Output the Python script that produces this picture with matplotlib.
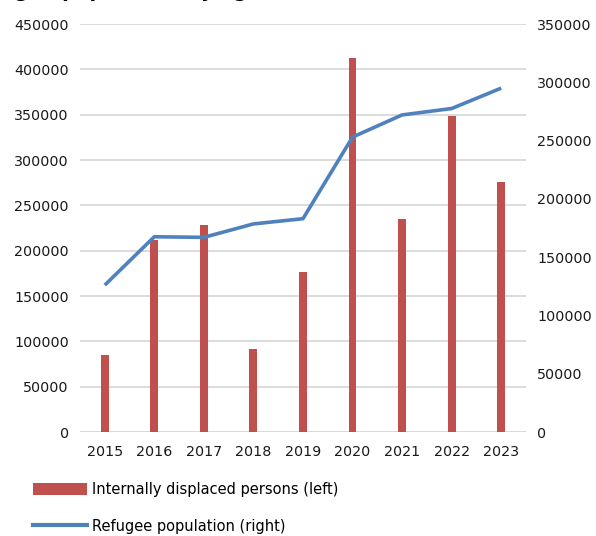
"""Refugee population vs internally displaced persons, dual-axis combo chart."""

import matplotlib

matplotlib.use("Agg")
import matplotlib.pyplot as plt
from matplotlib.lines import Line2D
from matplotlib.patches import Patch
from matplotlib.ticker import MultipleLocator

years = ["2015", "2016", "2017", "2018", "2019", "2020", "2021", "2022", "2023"]
idp_left = [85000, 212000, 228000, 92000, 177000, 412000, 235000, 349000, 276000]
refugees_right = [126000, 167500, 167000, 178500, 183000, 253000, 272000, 277500, 295000]

left_ticks_max = 450000
right_ticks_max = 350000

BAR_COLOR = "#c0504d"
LINE_COLOR = "#4f81bd"
GRID_COLOR = "#d9d9d9"

plt.rcParams["font.family"] = ["DejaVu Sans"]
plt.rcParams["font.size"] = 10

fig = plt.figure(figsize=(5.96, 5.36), dpi=100)
ax = fig.add_axes([0.1342, 0.194, 0.7483, 0.7612])
ax2 = ax.twinx()

x = list(range(len(years)))
ax.bar(x, idp_left, width=0.16, color=BAR_COLOR, zorder=3)
ax2.plot(x, refugees_right, color=LINE_COLOR, linewidth=2.6, solid_capstyle="butt", zorder=4)

ax.set_xlim(-0.5, len(years) - 0.5)
ax.set_ylim(0, left_ticks_max)
ax2.set_ylim(0, right_ticks_max)
ax.yaxis.set_major_locator(MultipleLocator(50000))
ax2.yaxis.set_major_locator(MultipleLocator(50000))
ax.set_xticks(x)
ax.set_xticklabels(years)

ax.grid(axis="y", color=GRID_COLOR, linewidth=1.3, zorder=0)
ax.set_axisbelow(True)
for a in (ax, ax2):
    for side in ("top", "left", "right", "bottom"):
        a.spines[side].set_visible(False)
    a.tick_params(length=0, labelsize=10.3, colors="#1a1a1a")
ax.tick_params(axis="y", pad=8)
ax.tick_params(axis="x", pad=9)
ax2.tick_params(axis="y", pad=8)
ax.axhline(0, color=GRID_COLOR, linewidth=1.3, zorder=1)

# title is cropped in the source: only the lower edge of its letters shows
fig.text(-0.06, 1.016, "Refugee population by age,",
         fontsize=14, fontweight="bold", ha="left", va="center")

handles = [
    Patch(facecolor=BAR_COLOR, edgecolor="none"),
    Line2D([0], [0], color=LINE_COLOR, linewidth=3),
]
labels = ["Internally displaced persons (left)", "Refugee population (right)"]
fig.legend(handles, labels, loc="upper left", bbox_to_anchor=(0.045, 0.112),
           frameon=False, handlelength=3.7, handleheight=0.9, handletextpad=0.35,
           labelspacing=1.5, fontsize=10.5, borderaxespad=0)

fig.savefig("out.png", dpi=100)
